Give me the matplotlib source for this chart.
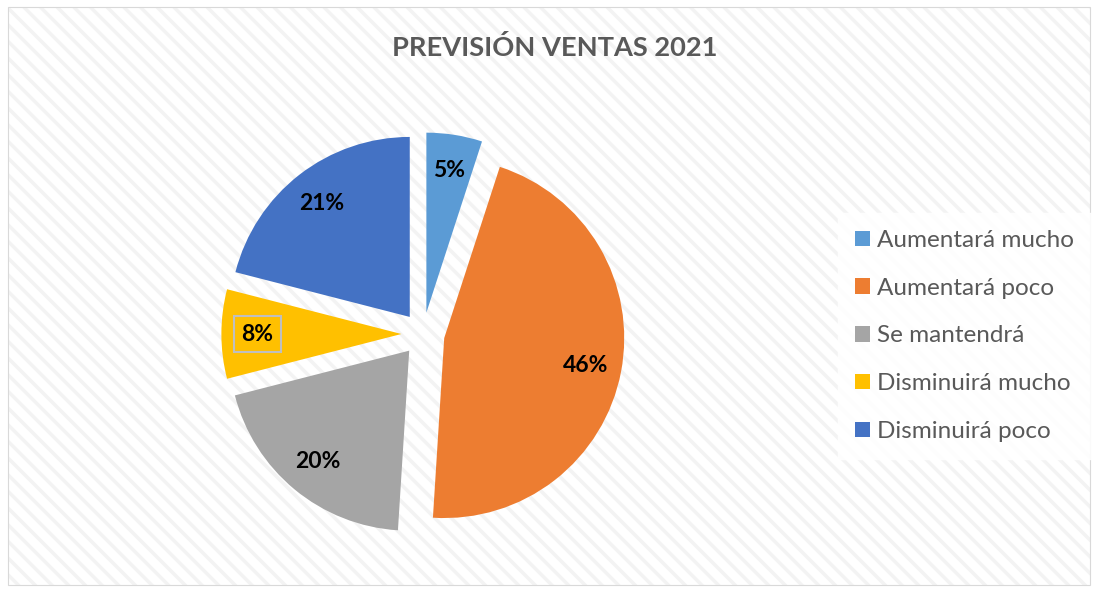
import matplotlib
matplotlib.use('Agg')
import matplotlib.pyplot as plt
from matplotlib.patches import Rectangle

plt.rcParams['font.family'] = ['Lato', 'DejaVu Sans']
plt.rcParams['hatch.linewidth'] = 2.5

categorias = ['Aumentará mucho', 'Aumentará poco', 'Se mantendrá',
              'Disminuirá mucho', 'Disminuirá poco']
porcentajes = [5, 46, 20, 8, 21]
colores = ['#5B9BD5', '#ED7D31', '#A5A5A5', '#FFC000', '#4472C4']
titulo = 'PREVISIÓN VENTAS 2021'

W, H = 1096, 592
fig = plt.figure(figsize=(W / 100, H / 100), dpi=100)
fig.patch.set_facecolor('white')

# fondo rayado del area del grafico
fig.patches.append(Rectangle((8 / W, 7 / H), 1082 / W, 578 / H, transform=fig.transFigure,
                             facecolor='white', edgecolor='#F3F3F3', hatch='\\\\', lw=0, zorder=-2))
fig.patches.append(Rectangle((8 / W, 7 / H), 1082 / W, 578 / H, transform=fig.transFigure,
                             facecolor='none', edgecolor='#D9D9D9', lw=0.8, zorder=-1))

# pie axes: center (423, 334) px, radius ~180 px
r_px = 180
half = 1.2 * r_px
cx, cy = 423, H - 334
ax = fig.add_axes([(cx - half) / W, (cy - half) / H, 2 * half / W, 2 * half / H])

wedges, texts, autotexts = ax.pie(porcentajes, colors=colores, startangle=90, counterclock=False,
                                  explode=[0.12] * len(porcentajes), autopct='%1.0f%%',
                                  pctdistance=0.8, radius=1.0,
                                  textprops=dict(fontsize=16.5, fontweight='bold', color='black'))
ax.set_xlim(-1.2, 1.2)
ax.set_ylim(-1.2, 1.2)
ax.set_aspect('equal')
ax.axis('off')
for t in autotexts:
    if t.get_text() == '8%':
        t.set_bbox(dict(facecolor='none', edgecolor='#BFBFBF', pad=5.5, lw=1.5))

fig.text(555 / W, 1 - 48 / H, titulo, ha='center', va='center', fontsize=19.6,
         fontweight='bold', color='#595959')

leg = fig.legend(wedges, categorias, loc='upper left', bbox_to_anchor=(838 / W, 1 - 213 / H),
                 frameon=True, fontsize=17.5, labelcolor='#595959', handlelength=0.6,
                 handleheight=0.6, handletextpad=0.3, labelspacing=1.1, borderpad=0.7,
                 borderaxespad=0, fancybox=False)
leg.get_frame().set_facecolor('white')
leg.get_frame().set_edgecolor('white')
leg.get_frame().set_alpha(0.85)

fig.savefig('out.png', dpi=100)
